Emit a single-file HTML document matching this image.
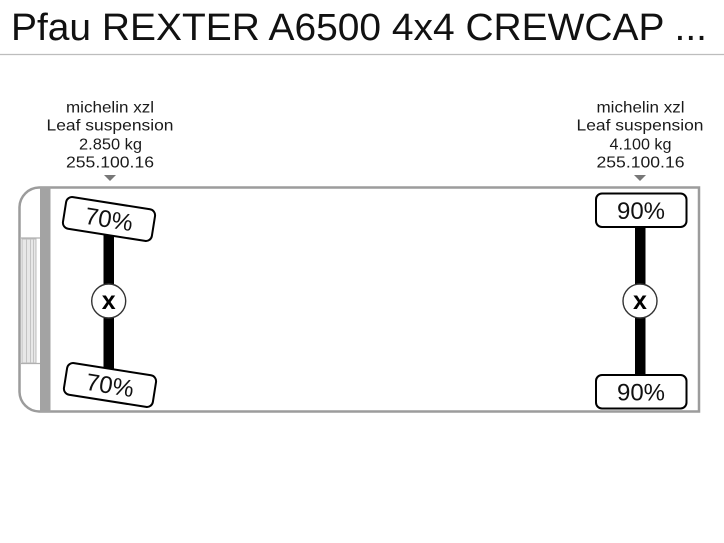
<!DOCTYPE html>
<html>
<head>
<meta charset="utf-8">
<style>
html,body{margin:0;padding:0;background:#fff;}
svg{display:block;}
text{font-family:"Liberation Sans",Arial,sans-serif;}
</style>
</head>
<body>
<svg width="724" height="543" viewBox="0 0 724 543" xmlns="http://www.w3.org/2000/svg">
  <rect x="0" y="0" width="724" height="543" fill="#fff"/>
  <!-- Title -->
  <text x="11" y="40" font-size="38" fill="#111" textLength="696" lengthAdjust="spacingAndGlyphs">Pfau REXTER A6500 4x4 CREWCAP ...</text>
  <line x1="0" y1="54.5" x2="724" y2="54.5" stroke="#bdbdbd" stroke-width="1.3"/>

  <!-- Left labels -->
  <g font-size="16" fill="#1a1a1a" text-anchor="middle">
    <text x="110" y="112.7" textLength="88" lengthAdjust="spacingAndGlyphs">michelin xzl</text>
    <text x="110" y="130.7" textLength="127" lengthAdjust="spacingAndGlyphs">Leaf suspension</text>
    <text x="110.5" y="149.3" textLength="63" lengthAdjust="spacingAndGlyphs">2.850 kg</text>
    <text x="110" y="167.3" textLength="88" lengthAdjust="spacingAndGlyphs">255.100.16</text>
  </g>
  <polygon points="104,175 116,175 110,181" fill="#777"/>

  <!-- Right labels -->
  <g font-size="16" fill="#1a1a1a" text-anchor="middle">
    <text x="640.5" y="112.7" textLength="88" lengthAdjust="spacingAndGlyphs">michelin xzl</text>
    <text x="640" y="130.7" textLength="127" lengthAdjust="spacingAndGlyphs">Leaf suspension</text>
    <text x="640.5" y="149.3" textLength="62" lengthAdjust="spacingAndGlyphs">4.100 kg</text>
    <text x="640.5" y="167.3" textLength="88" lengthAdjust="spacingAndGlyphs">255.100.16</text>
  </g>
  <polygon points="634,175 646,175 640,181" fill="#777"/>

  <!-- Frame -->
  <path d="M699,187.5 H39 A20 20 0 0 0 19.5 207 V392 A20 20 0 0 0 39 411.5 H699 Z" fill="#fff" stroke="#9c9c9c" stroke-width="2.5"/>
  <rect x="40" y="187" width="10.5" height="225" fill="#a3a3a3"/>
  <!-- Cab details -->
  <line x1="21" y1="238" x2="40" y2="238" stroke="#b0b0b0" stroke-width="1.2"/>
  <rect x="22" y="239" width="14" height="124" fill="#e8e8e8" stroke="#bdbdbd" stroke-width="1"/>
  <g stroke="#c4c4c4" stroke-width="1">
    <line x1="26.5" y1="239" x2="26.5" y2="363"/>
    <line x1="30.5" y1="239" x2="30.5" y2="363"/>
    <line x1="33.5" y1="239" x2="33.5" y2="363"/>
  </g>
  <line x1="21" y1="363.5" x2="40" y2="363.5" stroke="#b0b0b0" stroke-width="1.2"/>

  <!-- Left axle -->
  <rect x="103.5" y="232" width="10.5" height="140" fill="#000"/>
  <g transform="translate(109 219) rotate(9)">
    <rect x="-45" y="-16" width="90" height="32" rx="6" ry="6" fill="#fff" stroke="#000" stroke-width="2"/>
    <text x="0" y="8.5" font-size="24" fill="#111" text-anchor="middle">70%</text>
  </g>
  <g transform="translate(110 385) rotate(9)">
    <rect x="-45" y="-16" width="90" height="32" rx="6" ry="6" fill="#fff" stroke="#000" stroke-width="2"/>
    <text x="0" y="8.5" font-size="24" fill="#111" text-anchor="middle">70%</text>
  </g>
  <circle cx="108.7" cy="301" r="17" fill="#fff" stroke="#333" stroke-width="1.4"/>
  <text x="108.7" y="309" font-size="25" font-weight="bold" fill="#000" text-anchor="middle">x</text>

  <!-- Right axle -->
  <rect x="635" y="226" width="10.5" height="150" fill="#000"/>
  <rect x="596" y="193.5" width="90.5" height="33.5" rx="6" ry="6" fill="#fff" stroke="#000" stroke-width="2"/>
  <text x="641" y="219" font-size="24" fill="#111" text-anchor="middle">90%</text>
  <rect x="596" y="375" width="90.5" height="33.5" rx="6" ry="6" fill="#fff" stroke="#000" stroke-width="2"/>
  <text x="641" y="400.5" font-size="24" fill="#111" text-anchor="middle">90%</text>
  <circle cx="640" cy="301" r="17" fill="#fff" stroke="#333" stroke-width="1.4"/>
  <text x="640" y="309" font-size="25" font-weight="bold" fill="#000" text-anchor="middle">x</text>
</svg>
</body>
</html>
